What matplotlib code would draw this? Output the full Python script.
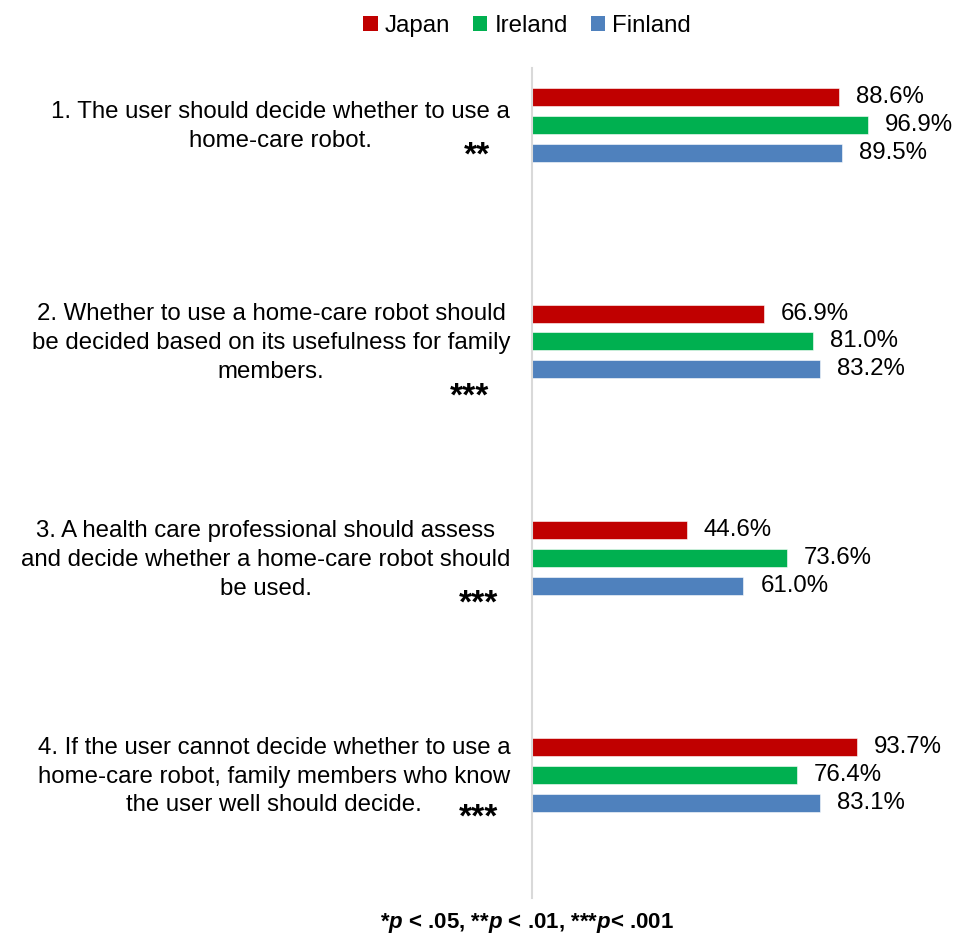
import matplotlib.pyplot as plt
from matplotlib.patches import Patch

plt.rcParams['font.family'] = ['Liberation Sans', 'DejaVu Sans']
plt.rcParams['mathtext.fontset'] = 'custom'
plt.rcParams['mathtext.it'] = 'Liberation Sans:italic:bold'
plt.rcParams['mathtext.rm'] = 'Liberation Sans:bold'

statements = [
    '1. The user should decide whether to use a\nhome-care robot.',
    '2. Whether to use a home-care robot should\nbe decided based on its usefulness for family\nmembers.',
    '3. A health care professional should assess\nand decide whether a home-care robot should\nbe used.',
    '4. If the user cannot decide whether to use a\nhome-care robot, family members who know\nthe user well should decide.',
]
significance = ['**', '***', '***', '***']
countries = ['Japan', 'Ireland', 'Finland']
japan = [88.6, 66.9, 44.6, 93.7]
ireland = [96.9, 81.0, 73.6, 76.4]
finland = [89.5, 83.2, 61.0, 83.1]
colors = ['#C00000', '#00B050', '#4F81BD']

fig = plt.figure(figsize=(9.55, 9.35), dpi=100)
ax = fig.add_axes([0.5571, 0.0396, 0.4356, 0.8877])

series = [japan, ireland, finland]
offsets = [-0.129, 0.0, 0.129]
for vals, off, col in zip(series, offsets, colors):
    ys = [i + off for i in range(len(vals))]
    ax.barh(ys, vals, height=0.083, color=col, edgecolor='white', linewidth=0.4)
    for y, v in zip(ys, vals):
        ax.text(v + 4.9, y, '{:.1f}%'.format(v), va='center', ha='left', fontsize=17.3)

ax.set_xlim(0, 120)
ax.set_ylim(3.568, -0.262)
ax.set_xticks([])
ax.set_yticks([])
for s in ['top', 'right', 'bottom']:
    ax.spines[s].set_visible(False)
ax.spines['left'].set_color('#d9d9d9')
ax.spines['left'].set_linewidth(1.5)

# statement labels: block right edge at x=-6.3, each line centred in the block
renderer = fig.canvas.get_renderer()
px_per_unit = ax.transData.transform((1, 0))[0] - ax.transData.transform((0, 0))[0]
line_gap = 0.1325
for i, txt in enumerate(statements):
    lines = txt.split('\n')
    widths = []
    for ln in lines:
        t = ax.text(0, 0, ln, fontsize=17.3)
        widths.append(t.get_window_extent(renderer).width)
        t.remove()
    cx = -6.3 - max(widths) / px_per_unit / 2
    for k, ln in enumerate(lines):
        y = i + 0.008 + (k - (len(lines) - 1) / 2) * line_gap
        ax.text(cx, y, ln, ha='center', va='center', fontsize=17.3)

# significance stars
star_pos = [(-15.9, 0.186), (-17.9, 0.298), (-15.3, 0.253), (-15.3, 0.240)]
for i, (st, (sx, sy)) in enumerate(zip(significance, star_pos)):
    ax.text(sx, i + sy, st, ha='center', va='baseline', fontsize=24, fontweight='bold')

handles = [Patch(facecolor=c, label=n) for c, n in zip(colors, countries)]
fig.legend(handles=handles, loc='center', bbox_to_anchor=(0.552, 0.972), ncol=3,
           frameon=False, fontsize=17.3, handlelength=0.6, handleheight=0.6,
           handletextpad=0.3, columnspacing=0.95)

fig.text(0.552, 0.013, '*$p$ < .05, **$p$ < .01, ***$p$< .001', ha='center', va='center',
         fontsize=16, fontweight='bold')

fig.savefig('out.png', dpi=100)
